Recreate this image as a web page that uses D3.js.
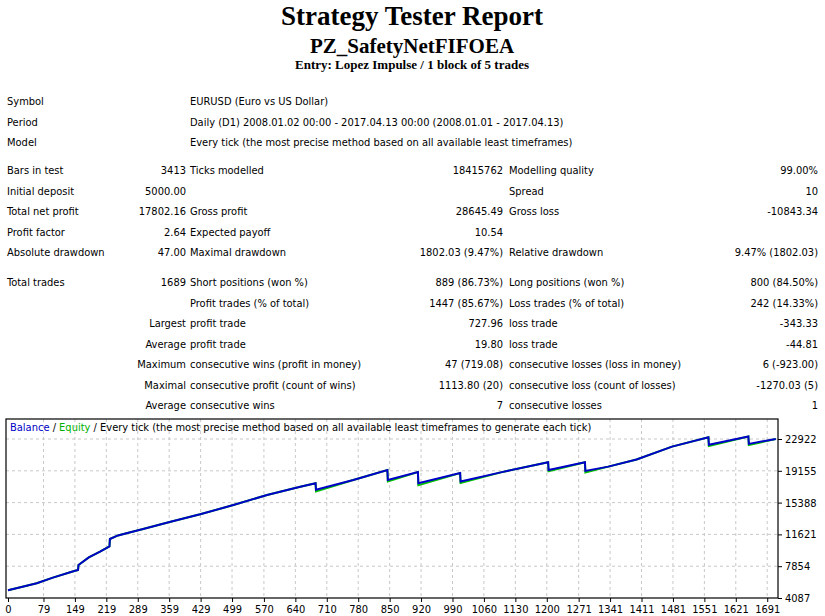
<!DOCTYPE html>
<html><head><meta charset="utf-8">
<script src="https://cdn.jsdelivr.net/npm/d3@7"></script>
<style>
body{margin:0;background:#fff}
svg text{font-family:"Liberation Sans Narrow","DejaVu Sans Condensed",sans-serif;font-size:11px;fill:#000}
.ttl{font-family:"Liberation Serif",serif;font-weight:bold}
</style></head><body>
<svg id="c" width="825" height="616"></svg>
<script>
const infoRows = [
  ["Symbol", "EURUSD (Euro vs US Dollar)"],
  ["Period", "Daily (D1) 2008.01.02 00:00 - 2017.04.13 00:00 (2008.01.01 - 2017.04.13)"],
  ["Model", "Every tick (the most precise method based on all available least timeframes)"]
];
// label1, value1, label2, value2, label3, value3
const statRows = [
  ["Bars in test", "3413", "Ticks modelled", "18415762", "Modelling quality", "99.00%"],
  ["Initial deposit", "5000.00", "", "", "Spread", "10"],
  ["Total net profit", "17802.16", "Gross profit", "28645.49", "Gross loss", "-10843.34"],
  ["Profit factor", "2.64", "Expected payoff", "10.54", "", ""],
  ["Absolute drawdown", "47.00", "Maximal drawdown", "1802.03 (9.47%)", "Relative drawdown", "9.47% (1802.03)"]
];
const tradeRows = [
  ["Total trades", "1689", "Short positions (won %)", "889 (86.73%)", "Long positions (won %)", "800 (84.50%)"],
  ["", "", "Profit trades (% of total)", "1447 (85.67%)", "Loss trades (% of total)", "242 (14.33%)"],
  ["", "Largest", "profit trade", "727.96", "loss trade", "-343.33"],
  ["", "Average", "profit trade", "19.80", "loss trade", "-44.81"],
  ["", "Maximum", "consecutive wins (profit in money)", "47 (719.08)", "consecutive losses (loss in money)", "6 (-923.00)"],
  ["", "Maximal", "consecutive profit (count of wins)", "1113.80 (20)", "consecutive loss (count of losses)", "-1270.03 (5)"],
  ["", "Average", "consecutive wins", "7", "consecutive losses", "1"]
];

// balance curve: trade number / balance
const tradeIdx = [0, 30, 64, 100, 142, 156, 157, 180, 205, 226, 227, 245, 264, 301, 360, 428, 502, 577, 651, 685, 686, 769, 845, 846, 913, 914, 1007, 1008, 1100, 1203, 1204, 1285, 1286, 1337, 1400, 1479, 1560, 1561, 1649, 1650, 1710];
const balance  = [5000, 5400, 5830, 6500, 7200, 7400, 8000, 8900, 9570, 10200, 11080, 11500, 11750, 12260, 13100, 14000, 15100, 16290, 17270, 17680, 16900, 18070, 19250, 18070, 19010, 17680, 18900, 17890, 19000, 20170, 19250, 20170, 19140, 19650, 20500, 22020, 23140, 22230, 23220, 22340, 22930];
const equity   = [5000, 5400, 5830, 6500, 7200, 7400, 8000, 8900, 9570, 10200, 11080, 11500, 11750, 12260, 13100, 14000, 15100, 16290, 17270, 17680, 16700, 18070, 19250, 17900, 19010, 17450, 18900, 17700, 19000, 20170, 19100, 20170, 18950, 19650, 20500, 22020, 23140, 22100, 23220, 22200, 22930];
const xTicks = [0, 79, 149, 219, 289, 359, 429, 499, 570, 640, 710, 780, 850, 920, 990, 1060, 1130, 1200, 1271, 1341, 1411, 1481, 1551, 1621, 1691];
const yTicks = [4087, 7854, 11621, 15388, 19155, 22922];

const svg = d3.select("#c");

svg.append("text").attr("class", "ttl").attr("x", 412).attr("y", 25)
  .attr("text-anchor", "middle").style("font-size", "27px").text("Strategy Tester Report");
svg.append("text").attr("class", "ttl").attr("x", 412).attr("y", 53)
  .attr("text-anchor", "middle").style("font-size", "21px").text("PZ_SafetyNetFIFOEA");
svg.append("text").attr("class", "ttl").attr("x", 412).attr("y", 69)
  .attr("text-anchor", "middle").style("font-size", "13px").text("Entry: Lopez Impulse / 1 block of 5 trades");

infoRows.forEach((r, i) => {
  const ty = 105 + i * 20.5;
  svg.append("text").attr("x", 7).attr("y", ty).text(r[0]);
  svg.append("text").attr("x", 190).attr("y", ty).text(r[1]);
});

// columns: [x, anchor]
const cols = [[7, "start"], [186, "end"], [190, "start"], [503, "end"], [509, "start"], [818, "end"]];
function drawRows(rows, y0) {
  rows.forEach((r, i) => {
    const ty = y0 + i * 20.5;
    r.forEach((t, j) => {
      if (!t) return;
      svg.append("text").attr("x", cols[j][0]).attr("y", ty).attr("text-anchor", cols[j][1]).text(t);
    });
  });
}
drawRows(statRows, 174);
drawRows(tradeRows, 286);

// chart
const cLeft = 6, cRight = 778, cTop = 419, cBottom = 598;
const x = d3.scaleLinear().domain([0, 1715]).range([8, cRight]);
const y = d3.scaleLinear().domain([4087, 22922]).range([cBottom, 439]);

const grid = svg.append("g").attr("stroke", "#c8c8c8").attr("stroke-dasharray", "3,3");
xTicks.slice(1).forEach(t => grid.append("line").attr("x1", x(t)).attr("x2", x(t)).attr("y1", cTop).attr("y2", cBottom));
yTicks.slice(1).forEach(t => grid.append("line").attr("x1", cLeft).attr("x2", cRight).attr("y1", y(t)).attr("y2", y(t)));

svg.append("rect").attr("x", cLeft).attr("y", cTop).attr("width", cRight - cLeft).attr("height", cBottom - cTop)
  .attr("fill", "none").attr("stroke", "#000").attr("stroke-width", 1.2);

const xAxis = d3.axisBottom(x).tickValues(xTicks).tickSize(4).tickFormat(d3.format("d"));
const gx = svg.append("g").attr("transform", `translate(0,${cBottom})`).call(xAxis);
gx.select(".domain").remove();
const yAxis = d3.axisRight(y).tickValues(yTicks).tickSize(4).tickFormat(d3.format("d"));
const gy = svg.append("g").attr("transform", `translate(${cRight},0)`).call(yAxis);
gy.select(".domain").remove();
svg.selectAll(".tick text").style("font-family", '"Liberation Sans Narrow","DejaVu Sans Condensed",sans-serif').style("font-size", "11px");

const line = d3.line().x((d, i) => x(tradeIdx[i])).y(d => y(d));
svg.append("path").datum(equity).attr("d", line).attr("fill", "none").attr("stroke", "#00c000").attr("stroke-width", 2);
svg.append("path").datum(balance).attr("d", line).attr("fill", "none").attr("stroke", "#0000c8").attr("stroke-width", 2);

const leg = svg.append("text").attr("x", 10).attr("y", 431);
leg.append("tspan").style("fill", "#0000c8").text("Balance");
leg.append("tspan").text(" / ");
leg.append("tspan").style("fill", "#00b000").text("Equity");
leg.append("tspan").text(" / Every tick (the most precise method based on all available least timeframes to generate each tick)");
</script>
</body></html>
